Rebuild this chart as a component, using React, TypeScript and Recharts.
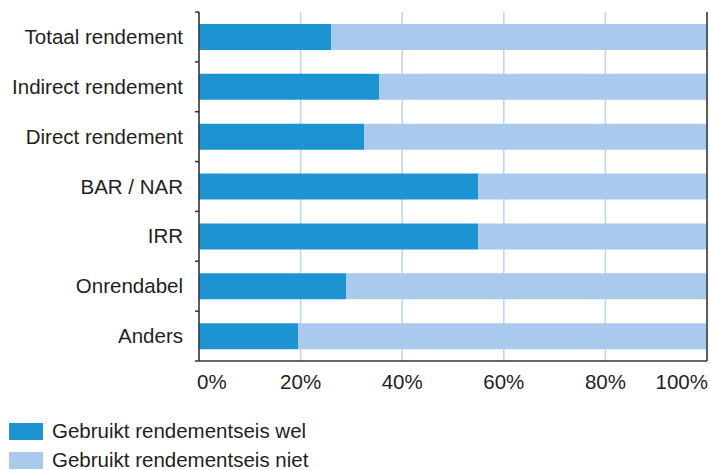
import React from "react";
import { BarChart, Bar, XAxis, YAxis, CartesianGrid, ReferenceLine } from "recharts";

const categories = [
  "Totaal rendement",
  "Indirect rendement",
  "Direct rendement",
  "BAR / NAR",
  "IRR",
  "Onrendabel",
  "Anders",
];
const welValues = [26, 35.5, 32.5, 55, 55, 29, 19.5];
const nietValues = [74, 64.5, 67.5, 45, 45, 71, 80.5];
const xTicks = [0, 20, 40, 60, 80, 100];
const seriesNames = ["Gebruikt rendementseis wel", "Gebruikt rendementseis niet"];

const DARK = "#1d93d1";
const LIGHT = "#a9caec";
const GRID = "#b9d4ef";
const AXIS = "#333333";
const TEXT = "#231f20";
const FONT = "'Liberation Sans', Arial, Helvetica, sans-serif";
const FS = 20.5;

const data = categories.map((c, i) => ({ name: c, wel: welValues[i], niet: nietValues[i] }));

const CHART_W = 710;
const CHART_H = 400;
const MARGIN = { top: 12, right: 3, bottom: 9, left: 0 };
const X_AXIS_H = 30;
const HALF_BAND = (CHART_H - MARGIN.top - MARGIN.bottom - X_AXIS_H) / categories.length / 2;

const YTick = (props: any) => {
  const { x, y, payload, index } = props;
  const axisX = x + 16;
  const last = index === categories.length - 1;
  return (
    <g>
      <text x={x} y={y} dy={7} textAnchor="end" fontSize={FS} fill={TEXT} fontFamily={FONT}>
        {payload.value}
      </text>
      <line x1={axisX - 4} x2={axisX} y1={y - HALF_BAND} y2={y - HALF_BAND} stroke={AXIS} strokeWidth={1.5} />
      {last && (
        <line x1={axisX - 4} x2={axisX} y1={y + HALF_BAND} y2={y + HALF_BAND} stroke={AXIS} strokeWidth={1.5} />
      )}
    </g>
  );
};

const XTick = (props: any) => {
  const { x, y, payload, index } = props;
  let anchor: "start" | "middle" | "end" = "middle";
  let dx = 0;
  if (index === 0) {
    anchor = "start";
    dx = -2;
  } else if (index === xTicks.length - 1) {
    anchor = "end";
    dx = 1;
  }
  return (
    <text x={x + dx} y={y} dy={20} textAnchor={anchor} fontSize={FS} fill={TEXT} fontFamily={FONT}>
      {payload.value + "%"}
    </text>
  );
};

export default function App() {
  return (
    <div style={{ position: "absolute", left: 0, top: 0, width: 710, height: 470, background: "#fff", fontFamily: FONT, overflow: "hidden" }}>
      <BarChart width={CHART_W} height={CHART_H} data={data} layout="vertical" margin={MARGIN} barCategoryGap={12}>
        <CartesianGrid horizontal={false} vertical={true} stroke={GRID} strokeWidth={1.5} />
        <XAxis
          type="number"
          domain={[0, 100]}
          ticks={xTicks}
          tickLine={false}
          axisLine={{ stroke: AXIS, strokeWidth: 1.5 }}
          tick={<XTick />}
          height={X_AXIS_H}
          interval={0}
        />
        <YAxis
          type="category"
          dataKey="name"
          width={199}
          tickLine={false}
          tickSize={0}
          tickMargin={16}
          axisLine={{ stroke: AXIS, strokeWidth: 1.5 }}
          tick={<YTick />}
          interval={0}
        />
        <Bar dataKey="wel" stackId="a" fill={DARK} isAnimationActive={false} />
        <Bar dataKey="niet" stackId="a" fill={LIGHT} isAnimationActive={false} />
        <ReferenceLine x={100} stroke={AXIS} strokeWidth={1.5} />
      </BarChart>
      {seriesNames.map((n, i) => (
        <div
          key={n}
          style={{
            position: "absolute",
            left: 9,
            top: 421 + i * 29,
            height: 20,
            lineHeight: "20px",
            display: "flex",
            alignItems: "center",
            fontSize: FS,
            color: TEXT,
            whiteSpace: "nowrap",
          }}
        >
          <div style={{ width: 34, height: 17, background: i === 0 ? DARK : LIGHT, marginRight: 9 }} />
          <span>{n}</span>
        </div>
      ))}
    </div>
  );
}
